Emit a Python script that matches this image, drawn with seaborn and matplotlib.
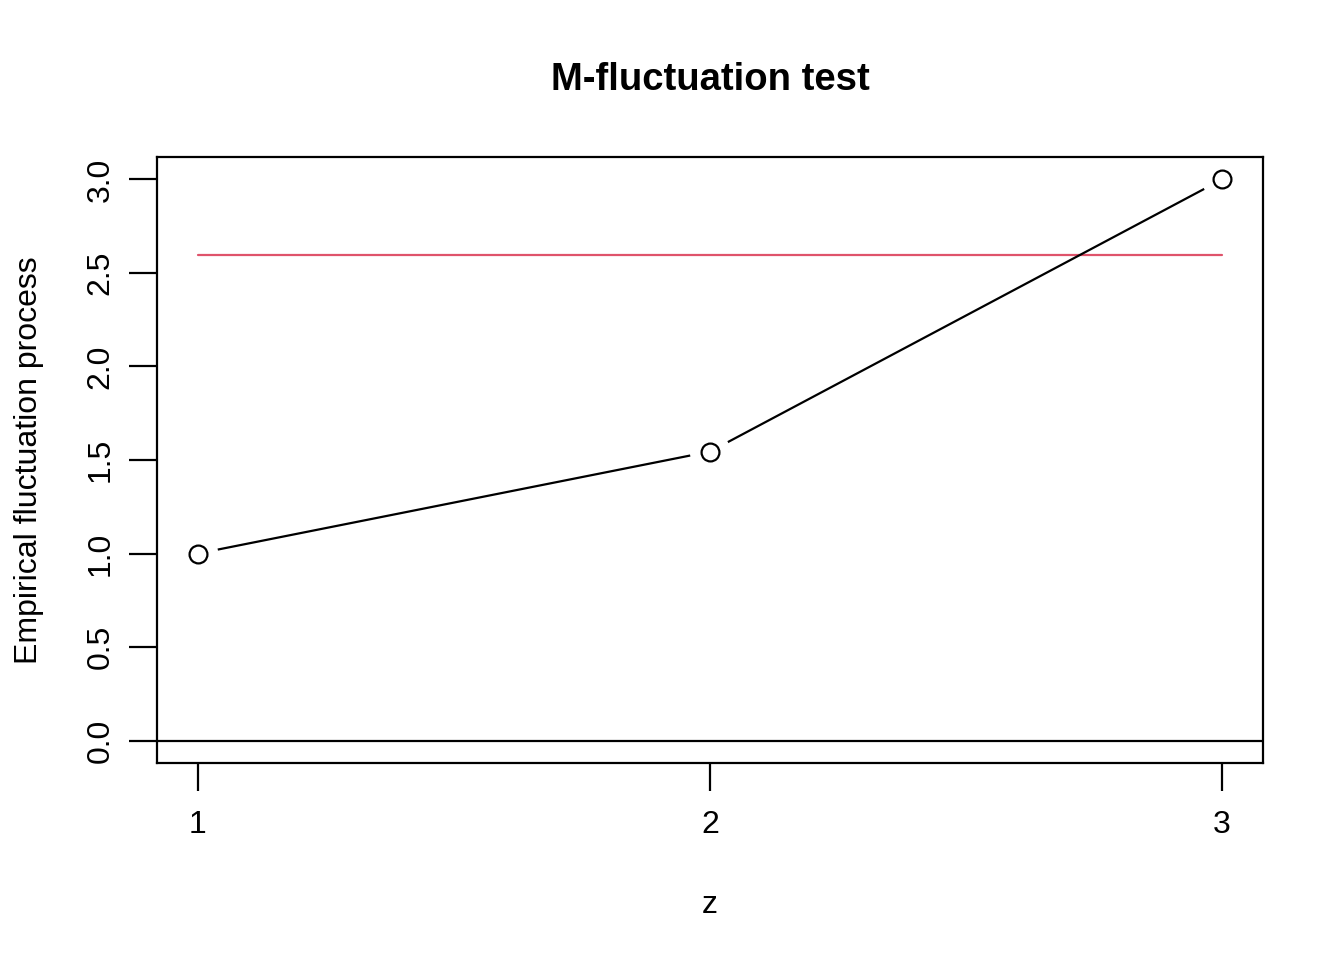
import matplotlib
matplotlib.use("Agg")
import matplotlib.pyplot as plt
import seaborn as sns
import pandas as pd
import numpy as np

z = [1, 2, 3]
process = [1.0, 1.545, 3.0]
boundary = 2.598
ytick_vals = [0.0, 0.5, 1.0, 1.5, 2.0, 2.5, 3.0]
ytick_labels = ["0.0", "0.5", "1.0", "1.5", "2.0", "2.5", "3.0"]
xtick_vals = [1, 2, 3]

sns.set_style("white")
plt.rcParams['font.family'] = ['Liberation Sans', 'DejaVu Sans']
plt.rcParams['text.color'] = 'black'
plt.rcParams['axes.labelcolor'] = 'black'
plt.rcParams['xtick.color'] = 'black'
plt.rcParams['ytick.color'] = 'black'

df = pd.DataFrame({"z": z, "process": process})

fig = plt.figure(figsize=(13.44, 9.6), dpi=100)
ax = fig.add_axes([157/1344, 1 - 763/960, (1263-157)/1344, (763-157)/960])

sns.lineplot(data=df, x="z", y="process", ax=ax, color="black", lw=1.6, zorder=2)
sns.scatterplot(data=df, x="z", y="process", ax=ax, s=850, color="white",
                edgecolor="none", zorder=3)
sns.scatterplot(data=df, x="z", y="process", ax=ax, s=165, facecolor="white",
                edgecolor="black", linewidth=1.6, zorder=4)

ax.plot([z[0], z[-1]], [boundary, boundary], color="#DF536B", lw=1.6, zorder=1)
ax.axhline(0, color="black", lw=1.6, zorder=1)

ax.set_xlim(0.92, 3.08)
ax.set_ylim(-0.12, 3.12)
ax.set_xticks(xtick_vals)
ax.set_xticklabels([str(v) for v in xtick_vals])
ax.set_yticks(ytick_vals)
ax.set_yticklabels(ytick_labels, rotation=90, va="center")

for s in ax.spines.values():
    s.set_visible(True)
    s.set_color("black")
    s.set_linewidth(1.6)

ax.tick_params(axis="both", which="both", direction="out", length=20, width=1.6,
               color="black", labelcolor="black", labelsize=23, pad=14,
               bottom=True, left=True)
ax.tick_params(axis="y", pad=10)

ax.set_xlabel("z", fontsize=23, labelpad=36, color="black")
ax.set_ylabel("Empirical fluctuation process", fontsize=23, labelpad=30, color="black")
fig.text(710/1344, 1 - 80/960, "M-fluctuation test", fontsize=27.5, fontweight="bold",
         ha="center", va="center", color="black")

fig.savefig("out.png", dpi=100, facecolor="white")
